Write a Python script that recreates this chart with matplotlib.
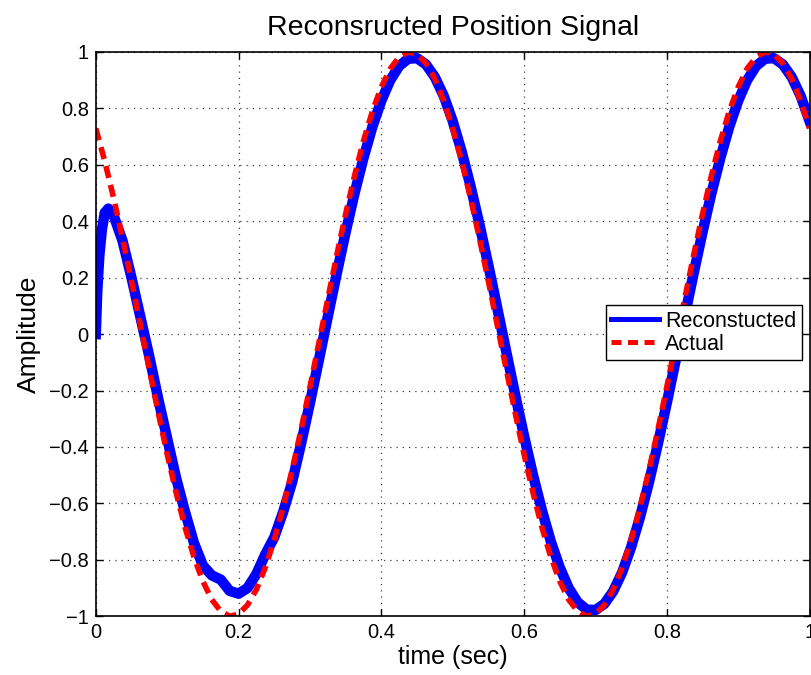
import matplotlib
matplotlib.use("Agg")
import matplotlib.pyplot as plt
from matplotlib.lines import Line2D

plt.rcParams['font.family'] = ['Liberation Sans', 'DejaVu Sans']

# actual position signal, sampled every 0.0125 s
t_actual = [i * 0.0125 for i in range(81)]
actual = [0.729, 0.613, 0.482, 0.339, 0.187, 0.031, -0.125, -0.279, -0.426, -0.562,
          -0.685, -0.790, -0.876, -0.941, -0.982, -1.000, -0.992, -0.960, -0.905, -0.827,
          -0.729, -0.613, -0.482, -0.339, -0.187, -0.031, 0.125, 0.279, 0.426, 0.562,
          0.685, 0.790, 0.876, 0.941, 0.982, 1.000, 0.992, 0.960, 0.905, 0.827,
          0.729, 0.613, 0.482, 0.339, 0.187, 0.031, -0.125, -0.279, -0.426, -0.562,
          -0.685, -0.790, -0.876, -0.941, -0.982, -1.000, -0.992, -0.960, -0.905, -0.827,
          -0.729, -0.613, -0.482, -0.339, -0.187, -0.031, 0.125, 0.279, 0.426, 0.562,
          0.685, 0.790, 0.876, 0.941, 0.982, 1.000, 0.992, 0.960, 0.905, 0.827,
          0.729]

# reconstructed signal: startup transient, bump near the first trough,
# then it tracks the actual signal with a small lag
t_recon = [0.000, 0.002, 0.005, 0.0085, 0.0125, 0.0175, 0.025, 0.0375, 0.050, 0.0625,
           0.075, 0.0875, 0.100, 0.1125, 0.125, 0.1375, 0.150, 0.1625, 0.175, 0.1875,
           0.200, 0.2125, 0.225, 0.2375, 0.250, 0.2625, 0.275, 0.2875, 0.300, 0.3125,
           0.325, 0.3375, 0.350, 0.3625, 0.375, 0.3875, 0.400, 0.4125, 0.425, 0.4375,
           0.450, 0.4625, 0.475, 0.4875, 0.500, 0.5125, 0.525, 0.5375, 0.550, 0.5625,
           0.575, 0.5875, 0.600, 0.6125, 0.625, 0.6375, 0.650, 0.6625, 0.675, 0.6875,
           0.700, 0.7125, 0.725, 0.7375, 0.750, 0.7625, 0.775, 0.7875, 0.800, 0.8125,
           0.825, 0.8375, 0.850, 0.8625, 0.875, 0.8875, 0.900, 0.9125, 0.925, 0.9375,
           0.950, 0.9625, 0.975, 0.9875, 1.000]
recon = [0.000, 0.150, 0.280, 0.370, 0.430, 0.445, 0.420, 0.330, 0.200, 0.060,
         -0.080, -0.230, -0.370, -0.510, -0.630, -0.740, -0.820, -0.855, -0.870, -0.910,
         -0.920, -0.900, -0.850, -0.780, -0.720, -0.630, -0.525, -0.389, -0.244, -0.092,
         0.062, 0.214, 0.361, 0.499, 0.624, 0.735, 0.827, 0.900, 0.950, 0.976,
         0.978, 0.956, 0.911, 0.844, 0.755, 0.648, 0.525, 0.389, 0.244, 0.092,
         -0.062, -0.214, -0.361, -0.499, -0.624, -0.735, -0.827, -0.900, -0.950, -0.976,
         -0.978, -0.956, -0.911, -0.844, -0.755, -0.648, -0.525, -0.389, -0.244, -0.092,
         0.062, 0.214, 0.361, 0.499, 0.624, 0.735, 0.827, 0.900, 0.950, 0.976,
         0.978, 0.956, 0.911, 0.844, 0.755]

x_ticks = [0, 0.2, 0.4, 0.6, 0.8, 1]
x_labels = ['0', '0.2', '0.4', '0.6', '0.8', '1']
y_ticks = [-1, -0.8, -0.6, -0.4, -0.2, 0, 0.2, 0.4, 0.6, 0.8, 1]
y_labels = ['\u22121', '\u22120.8', '\u22120.6', '\u22120.4', '\u22120.2', '0',
            '0.2', '0.4', '0.6', '0.8', '1']

fig = plt.figure(figsize=(8.12, 6.75), dpi=100)
ax = fig.add_axes([0.118, 0.087, 0.879, 0.836])

ax.plot(t_recon, recon, color='#0000ff', lw=7.5, solid_joinstyle='round')
ax.plot(t_actual, actual, color='#ff0000', lw=4, dashes=(2.2, 1.3))

ax.set_xlim(0, 1)
ax.set_ylim(-1, 1)
ax.set_xticks(x_ticks)
ax.set_xticklabels(x_labels)
ax.set_yticks(y_ticks)
ax.set_yticklabels(y_labels)
ax.tick_params(direction='in', length=5, width=1, top=True, right=True,
               labelsize=14.5, pad=5)
ax.grid(True, color='#404040', linestyle=(0, (1, 4)), lw=0.9)
for s in ax.spines.values():
    s.set_linewidth(1.2)

ax.set_title('Reconsructed Position Signal', fontsize=20.5, pad=12)
ax.set_xlabel('time (sec)', fontsize=18, labelpad=2)
ax.set_ylabel('Amplitude', fontsize=19, labelpad=6)

# legend uses thinner lines than the plotted curves
handles = [Line2D([], [], color='#0000ff', lw=3.6),
           Line2D([], [], color='#ff0000', lw=3.6, dashes=(2, 1.3))]
leg = ax.legend(handles, ['Reconstucted', 'Actual'], loc='upper right',
                bbox_to_anchor=(0.989, 0.551), fontsize=15.5, frameon=True,
                fancybox=False, edgecolor='black', framealpha=1,
                handlelength=2.2, handletextpad=0.3, borderpad=0.25,
                labelspacing=0.1, borderaxespad=0)
leg.get_frame().set_linewidth(1.0)

fig.savefig('out.png', dpi=100)
